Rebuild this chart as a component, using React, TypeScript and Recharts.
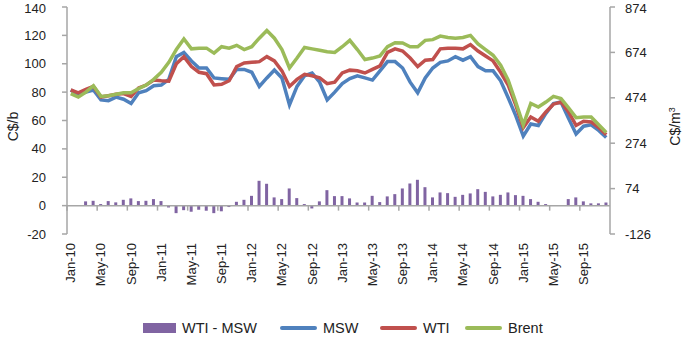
import { Bar, ComposedChart, Label, Line, ReferenceLine, XAxis, YAxis } from "recharts";

const months = [
  "Jan-10", "Feb-10", "Mar-10", "Apr-10", "May-10", "Jun-10", "Jul-10", "Aug-10", "Sep-10", "Oct-10", "Nov-10", "Dec-10",
  "Jan-11", "Feb-11", "Mar-11", "Apr-11", "May-11", "Jun-11", "Jul-11", "Aug-11", "Sep-11", "Oct-11", "Nov-11", "Dec-11",
  "Jan-12", "Feb-12", "Mar-12", "Apr-12", "May-12", "Jun-12", "Jul-12", "Aug-12", "Sep-12", "Oct-12", "Nov-12", "Dec-12",
  "Jan-13", "Feb-13", "Mar-13", "Apr-13", "May-13", "Jun-13", "Jul-13", "Aug-13", "Sep-13", "Oct-13", "Nov-13", "Dec-13",
  "Jan-14", "Feb-14", "Mar-14", "Apr-14", "May-14", "Jun-14", "Jul-14", "Aug-14", "Sep-14", "Oct-14", "Nov-14", "Dec-14",
  "Jan-15", "Feb-15", "Mar-15", "Apr-15", "May-15", "Jun-15", "Jul-15", "Aug-15", "Sep-15", "Oct-15", "Nov-15", "Dec-15"
];

const msw = [
  81.5, 78, 80, 81.5, 74.5, 74, 76.5, 75, 72, 79.5, 81, 84.5,
  85, 89, 105, 108, 102, 97, 97, 90, 89.5, 89, 96, 96,
  94, 84, 90, 95.5, 90, 71, 84, 91.5, 93.5, 87, 74.5, 80,
  86, 89.5, 91.5, 90, 88.5, 95, 101.5, 101.5, 97, 87, 79.5, 90,
  97, 101, 102, 105, 102.5, 105, 98, 95, 95, 88, 76, 63.5,
  49, 57.5, 56.5, 65, 72, 73, 61.5, 50.5, 56, 57, 53, 48
];

const wti = [
  81.5, 79.5, 82, 84, 76.5, 77.5, 78.5, 79, 77, 83, 85, 88.5,
  88, 87.7, 100, 105, 98, 94, 93, 85, 85.5, 88, 98, 100.5,
  101, 101.5, 105, 102, 95, 84, 89, 92.5, 91.5, 90, 86, 87,
  93.5, 95.5, 95, 93.5, 96, 98.5, 108, 110.5, 109, 104, 98, 102.5,
  103, 110.5, 111, 111, 110.5, 113.5, 109, 105.5, 102, 94, 85, 71,
  55, 62.5, 59.5, 66, 71.5, 73, 66, 56.5, 59.5, 59, 55, 50
];

const brent = [
  79, 76.5, 80, 84.5, 77, 77.5, 78.5, 79.5, 79.5, 82.5, 85, 89,
  94, 101, 110, 117.5, 110.5, 111, 111, 107.5, 112, 111, 113, 110,
  112, 118, 123.5, 118, 110, 97, 104, 111.5, 110.5, 109.5, 108.5, 108,
  112, 116.5, 110, 103, 104, 105.5, 112, 114.8, 114.6, 112, 112, 116.5,
  117, 119.5, 118.5, 118, 118.5, 120, 114, 110, 106, 99, 88.5, 73,
  57, 72, 69.5, 73, 77, 75.5, 69, 62, 62.5, 62.5, 57, 51.5
];

// WTI - MSW differential
const spread = [
  0, 0.3, 3, 3.4, 1.1, 3.2, 2.3, 4.1, 5.1, 3.2, 3.4, 4.6,
  3.2, -1.3, -5.3, -3.2, -4.3, -2.9, -3.6, -5.3, -4, -1, 2.7, 4.1,
  6.9, 17.5, 15.4, 5.8, 4.6, 12.1, 5.3, 1.1, -2, 3, 10.9, 6.7,
  6.7, 5.1, 2.2, 2.2, 6.9, 2.5, 6.5, 8.1, 12.1, 15.6, 18.2, 13,
  5.8, 9.3, 8.8, 6.2, 7.6, 8.6, 11.6, 9.7, 6.5, 7.6, 9.3, 7.4,
  6.9, 4.6, 2.7, 1.1, 0.2, 0, 4.6, 5.8, 3, 1.6, 1.6, 2.2
];

const leftTicks = [-20, 0, 20, 40, 60, 80, 100, 120, 140];
const rightTicks = [-126, 74, 274, 474, 674, 874];

const data = months.map((month, i) => ({
  month,
  spread: spread[i],
  msw: msw[i],
  wti: wti[i],
  brent: brent[i]
}));

const W = 685;
const H = 339;
const TOP = 7;
const LEFT_W = 67;
const RIGHT_W = 75;
const X_H = 105;
const PLOT_H = H - TOP - X_H;
const BAND = (W - LEFT_W - RIGHT_W) / months.length;
const ZERO_Y = TOP + (PLOT_H * 140) / 160;
const AXIS = "#a6a6a6";
const FONT = "'Liberation Sans', Arial, sans-serif";

function XTick(props: any) {
  const { x, payload } = props;
  const labelY = TOP + PLOT_H + 9;
  const tx = x - BAND / 2;
  return (
    <g>
      <line x1={tx} x2={tx} y1={ZERO_Y} y2={ZERO_Y + 5} stroke={AXIS} strokeWidth={1.5} />
      <text
        x={x}
        y={labelY}
        transform={`rotate(-90 ${x} ${labelY})`}
        textAnchor="end"
        dy="0.35em"
        fontSize={13}
        fill="#222"
      >
        {payload.value}
      </text>
    </g>
  );
}

function LeftTitle(props: any) {
  const { viewBox } = props;
  const cx = viewBox.x + 13;
  const cy = viewBox.y + viewBox.height / 2 + 6;
  return (
    <text x={cx} y={cy} transform={`rotate(-90 ${cx} ${cy})`} textAnchor="middle" dy="0.35em" fontSize={14} fill="#222">
      C$/b
    </text>
  );
}

function RightTitle(props: any) {
  const { viewBox } = props;
  const cx = viewBox.x + 65;
  const cy = viewBox.y + viewBox.height / 2 + 6;
  return (
    <text x={cx} y={cy} transform={`rotate(-90 ${cx} ${cy})`} textAnchor="middle" dy="0.35em" fontSize={14} fill="#222">
      C$/m<tspan dy={-5} fontSize={9}>3</tspan>
    </text>
  );
}

const legendItems = [
  { label: "WTI - MSW", color: "#8064A2", kind: "bar", left: 143 },
  { label: "MSW", color: "#4F81BD", kind: "line", left: 280 },
  { label: "WTI", color: "#C0504D", kind: "line", left: 380 },
  { label: "Brent", color: "#9BBB59", kind: "line", left: 465 }
];

export default function App() {
  return (
    <div style={{ position: "absolute", left: 0, top: 0, width: W, height: H, fontFamily: FONT, background: "#fff" }}>
      <ComposedChart width={W} height={H} data={data} margin={{ top: TOP, right: 0, bottom: 0, left: 0 }}>
        <XAxis
          dataKey="month"
          height={X_H}
          interval={3}
          axisLine={false}
          tickLine={false}
          tick={<XTick />}
        />
        <YAxis
          yAxisId="left"
          width={LEFT_W}
          domain={[-20, 140]}
          ticks={leftTicks}
          allowDataOverflow
          stroke={AXIS}
          strokeWidth={1.5}
          tickSize={5}
          tickMargin={16}
          tick={{ fill: "#222", fontSize: 13 }}
        >
          <Label content={<LeftTitle />} />
        </YAxis>
        <YAxis
          yAxisId="right"
          orientation="right"
          width={RIGHT_W}
          domain={[-126, 874]}
          ticks={rightTicks}
          allowDataOverflow
          stroke={AXIS}
          strokeWidth={1.5}
          tickSize={5}
          tickMargin={10}
          tick={{ fill: "#222", fontSize: 13, textAnchor: "start" }}
        >
          <Label content={<RightTitle />} />
        </YAxis>
        <ReferenceLine yAxisId="left" y={0} stroke={AXIS} strokeWidth={1.5} />
        <Bar yAxisId="left" dataKey="spread" fill="#8064A2" barSize={3} isAnimationActive={false} />
        <Line yAxisId="left" type="linear" dataKey="msw" stroke="#4F81BD" strokeWidth={3.5} dot={false} isAnimationActive={false} />
        <Line yAxisId="left" type="linear" dataKey="wti" stroke="#C0504D" strokeWidth={3.5} dot={false} isAnimationActive={false} />
        <Line yAxisId="left" type="linear" dataKey="brent" stroke="#9BBB59" strokeWidth={3.5} dot={false} isAnimationActive={false} />
      </ComposedChart>
      {legendItems.map((item) => (
        <div
          key={item.label}
          style={{ position: "absolute", left: item.left, top: 318, height: 20, display: "flex", alignItems: "center", fontSize: 14.5, color: "#222" }}
        >
          {item.kind === "bar" ? (
            <span style={{ display: "inline-block", width: 33, height: 10, background: item.color, marginRight: 6 }} />
          ) : (
            <span style={{ display: "inline-block", width: 37, height: 4, borderRadius: 2, background: item.color, marginRight: 6 }} />
          )}
          <span>{item.label}</span>
        </div>
      ))}
    </div>
  );
}
